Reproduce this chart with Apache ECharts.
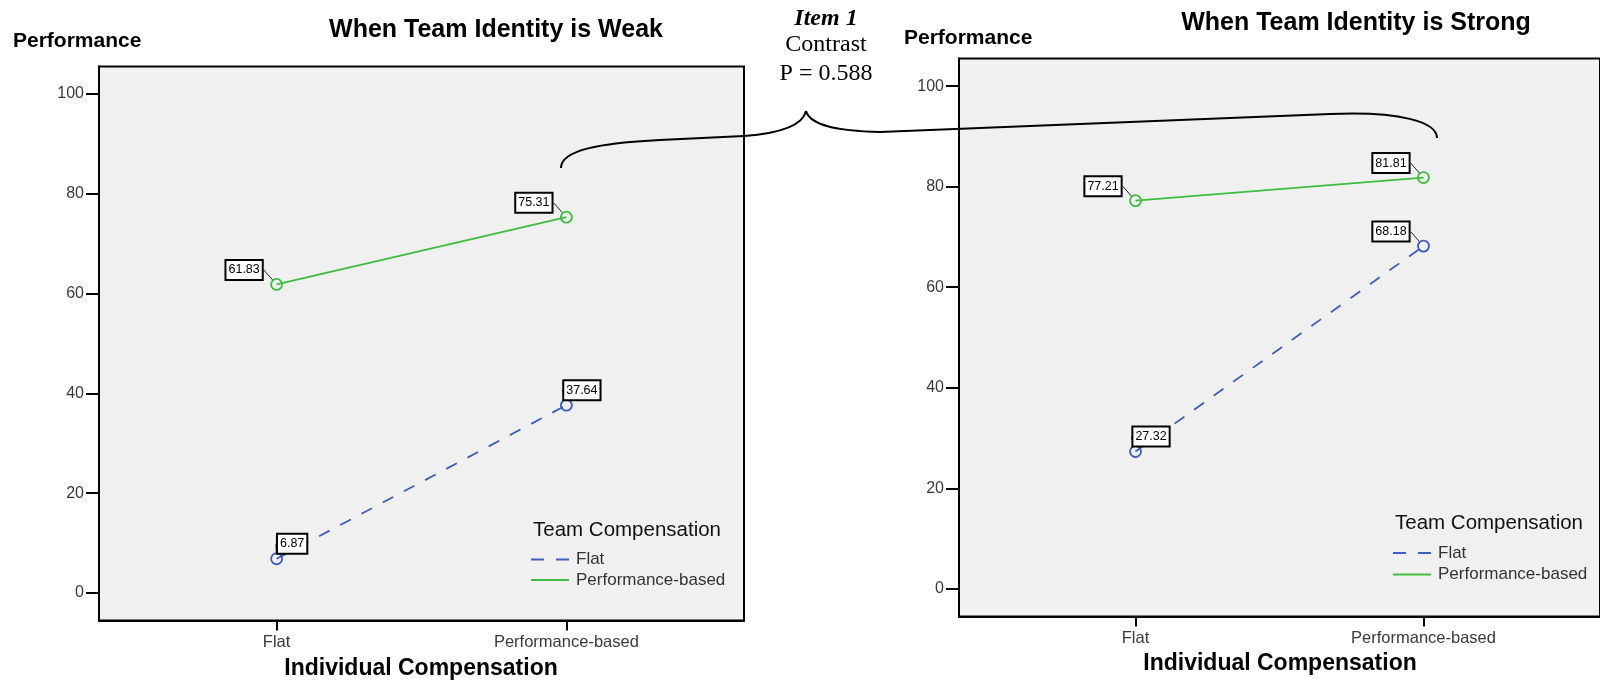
<!DOCTYPE html>
<html>
<head>
<meta charset="utf-8">
<script src="https://cdn.jsdelivr.net/npm/echarts@6/dist/echarts.min.js"></script>
<style>
html,body{margin:0;padding:0;background:#fff;}
#c{width:1600px;height:683px;}
</style>
</head>
<body>
<div id="c"></div>
<script>
// ---- data ----
const categories = ['Flat', 'Performance-based'];          // Individual Compensation
const teamComp = ['Flat', 'Performance-based'];            // Team Compensation (series)
const weakFlat = [6.87, 37.64];
const weakPerf = [61.83, 75.31];
const strongFlat = [27.32, 68.18];
const strongPerf = [77.21, 81.81];
const yTicks = [0, 20, 40, 60, 80, 100];
const panelTitles = ['When Team Identity is Weak', 'When Team Identity is Strong'];
const yName = 'Performance';
const xName = 'Individual Compensation';
const legendTitle = 'Team Compensation';
const noteLines = ['Item 1', 'Contrast', 'P = 0.588'];

// ---- styling / layout ----
const BLUE = '#3d5cbd';
const GREEN = '#3cbe3c';
const SANS = 'Liberation Sans, Arial, sans-serif';
const SERIF = 'Liberation Serif, Times New Roman, serif';
// label placement per panel, per series, per point: L = upper-left, R = upper-right
const labelSides = [
  [['R', 'R'], ['L', 'L']],
  [['R', 'L'], ['L', 'L']]
];

const xKeys = categories.map((c, i) => i + 1);

function makeGrid(left, top, width, height) {
  return { left, top, width, height, show: true, backgroundColor: '#f0f0f0',
           borderColor: '#000', borderWidth: 2, containLabel: false };
}
function makeX(idx) {
  return {
    gridIndex: idx, type: 'value', min: 0.387, max: 2.613,
    axisLine: { show: true, onZero: false, lineStyle: { color: '#000', width: 2 } },
    axisTick: { show: true, customValues: xKeys, length: 10, lineStyle: { color: '#000', width: 2 } },
    axisLabel: { customValues: xKeys, margin: 13, fontSize: 16.5, fontFamily: SANS, color: '#3a3a3a',
                 formatter: v => categories[Math.round(v) - 1] || '' },
    splitLine: { show: false }
  };
}
function makeY(idx) {
  return {
    gridIndex: idx, type: 'value', min: -5.5, max: 105.5,
    axisLine: { show: true, lineStyle: { color: '#000', width: 2 } },
    axisTick: { show: true, customValues: yTicks, length: 13, lineStyle: { color: '#000', width: 2 } },
    axisLabel: { customValues: yTicks, margin: 15, fontSize: 16, fontFamily: SANS, color: '#3a3a3a' },
    splitLine: { show: false }
  };
}
function makeSeries(panel, sIdx, values, color, dashed) {
  const sides = labelSides[panel][sIdx];
  return {
    type: 'line', name: teamComp[sIdx], xAxisIndex: panel, yAxisIndex: panel,
    data: values.map((v, i) => [xKeys[i], v]),
    symbol: 'circle', symbolSize: 11,
    itemStyle: { color: 'rgba(0,0,0,0)', borderColor: color, borderWidth: 1.8 },
    lineStyle: { color: color, width: 1.8, type: dashed ? [12, 12] : 'solid' },
    label: {
      show: true, position: 'inside',
      formatter: p => p.value[1].toFixed(2),
      fontSize: 12.5, fontFamily: SANS, color: '#000',
      backgroundColor: '#fff', borderColor: '#000', borderWidth: 2,
      padding: [3, 2, 2, 2]
    },
    labelLine: { show: true, lineStyle: { color: '#222', width: 1 } },
    labelLayout: function (params) {
      const s = sides[params.dataIndex];
      return s === 'L' ? { dx: -32.5, dy: -14.5 } : { dx: 15.5, dy: -15 };
    },
    emphasis: { disabled: true },
    animation: false,
    z: 3
  };
}

function txt(text, x, y, font, align, fill) {
  return { type: 'text', x, y, silent: true,
           style: { text, font, fill: fill || '#000', align: align || 'left', verticalAlign: 'middle' } };
}
function bez(x1, y1, cx1, cy1, cx2, cy2, x2, y2) {
  return { type: 'bezierCurve', silent: true, z: 10,
           shape: { x1, y1, cpx1: cx1, cpy1: cy1, cpx2: cx2, cpy2: cy2, x2, y2 },
           style: { stroke: '#000', lineWidth: 2, fill: null } };
}
function seg(x1, y1, x2, y2, stroke, lw, dash) {
  return { type: 'line', silent: true, z: 10, shape: { x1, y1, x2, y2 },
           style: { stroke, lineWidth: lw, lineDash: dash || null } };
}
function legendBlock(x0, yTitle, y1, y2) {
  return [
    txt(legendTitle, x0 + 2, yTitle, '20.5px ' + SANS, 'left', '#111'),
    seg(x0, y1, x0 + 38, y1, BLUE, 2, [13, 12]),
    txt(teamComp[0], x0 + 45, y1, '17px ' + SANS, 'left', '#333'),
    seg(x0, y2, x0 + 38, y2, GREEN, 2),
    txt(teamComp[1], x0 + 45, y2, '17px ' + SANS, 'left', '#333')
  ];
}

const graphics = [
  txt(panelTitles[0], 496, 30, 'bold 25px ' + SANS, 'center'),
  txt(panelTitles[1], 1356, 23, 'bold 25px ' + SANS, 'center'),
  txt(yName, 13, 41, 'bold 21px ' + SANS, 'left'),
  txt(yName, 904, 38, 'bold 21px ' + SANS, 'left'),
  txt(xName, 421, 669, 'bold 23px ' + SANS, 'center'),
  txt(xName, 1280, 664, 'bold 23px ' + SANS, 'center'),
  txt(noteLines[0], 826, 19, 'bold italic 24px ' + SERIF, 'center'),
  txt(noteLines[1], 826, 45, '24px ' + SERIF, 'center'),
  txt(noteLines[2], 826, 74, '24px ' + SERIF, 'center'),
  // curly brace
  bez(561, 168, 561, 150, 600, 143, 660, 140),
  seg(660, 140, 744, 136, '#000', 2),
  bez(744, 136, 785, 133, 803, 124, 806, 111),
  bez(806, 111, 810, 125, 835, 131, 880, 132),
  seg(880, 132, 1330, 114, '#000', 2),
  bez(1330, 114, 1400, 111, 1437, 122, 1437, 138)
].concat(legendBlock(531, 530, 559.5, 580))
 .concat(legendBlock(1393, 523.5, 553, 574.5));

const option = {
  backgroundColor: '#fff',
  animation: false,
  grid: [makeGrid(99, 66.5, 645, 554), makeGrid(959, 58.5, 646, 558)],
  xAxis: [makeX(0), makeX(1)],
  yAxis: [makeY(0), makeY(1)],
  series: [
    makeSeries(0, 0, weakFlat, BLUE, true),
    makeSeries(0, 1, weakPerf, GREEN, false),
    makeSeries(1, 0, strongFlat, BLUE, true),
    makeSeries(1, 1, strongPerf, GREEN, false)
  ],
  graphic: graphics
};

const chart = echarts.init(document.getElementById('c'), null, { renderer: 'canvas' });
chart.setOption(option);
</script>
</body>
</html>
